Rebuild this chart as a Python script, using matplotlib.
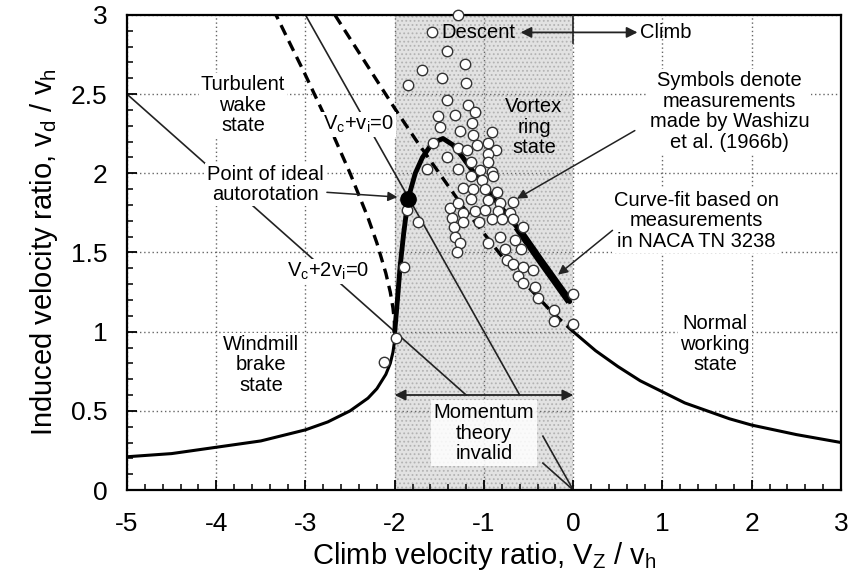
import numpy as np
import matplotlib.pyplot as plt
from matplotlib.ticker import MultipleLocator

plt.rcParams['font.family'] = ['Liberation Sans', 'DejaVu Sans']
plt.rcParams['hatch.linewidth'] = 0.8
plt.rcParams['axes.unicode_minus'] = False
plt.rcParams['mathtext.default'] = 'regular'

# momentum theory, normal working state branch (climb side)
climb_x = [0.0, 0.25, 0.5, 0.75, 1.0, 1.25, 1.5, 1.75, 2.0, 2.5, 3.0]
climb_y = [1.0, 0.88, 0.78, 0.69, 0.62, 0.55, 0.50, 0.45, 0.41, 0.35, 0.30]
# same branch carried into descent (dashed)
climb_ext_x = [-2.67, -2.5, -2.25, -2.0, -1.75, -1.5, -1.25, -1.0, -0.75, -0.5, -0.25, 0.0]
climb_ext_y = [3.0, 2.85, 2.63, 2.41, 2.20, 2.0, 1.80, 1.62, 1.44, 1.28, 1.13, 1.0]
# windmill brake state branch
brake_x = [-5.0, -4.5, -4.0, -3.5, -3.0, -2.75, -2.5, -2.3, -2.2, -2.1, -2.05, -2.02, -2.005, -2.0]
brake_y = [0.21, 0.23, 0.27, 0.31, 0.38, 0.43, 0.50, 0.58, 0.64, 0.73, 0.80, 0.87, 0.93, 1.0]
# other root of the windmill branch (dashed)
brake_ext_x = [-2.0, -2.005, -2.02, -2.05, -2.1, -2.2, -2.3, -2.5, -2.75, -3.0, -3.2, -3.33]
brake_ext_y = [1.0, 1.07, 1.15, 1.25, 1.37, 1.56, 1.72, 2.0, 2.32, 2.62, 2.85, 3.0]

# curve fit, NACA TN 3238
fit_x = [-2.0, -1.97, -1.94, -1.90, -1.85, -1.77, -1.69, -1.58, -1.46, -1.35, -1.25,
         -1.16, -0.90, -0.63, -0.37, -0.04]
fit_y = [1.0, 1.20, 1.41, 1.62, 1.84, 2.00, 2.10, 2.19, 2.22, 2.18, 2.11,
         2.04, 1.85, 1.66, 1.45, 1.19]

# Washizu et al. (1966b) measurements
wash_x = [-1.29, -1.58, -1.42, -1.21, -1.69, -1.85, -1.47, -1.20, -1.41, -1.18, -1.10,
          -1.52, -1.32, -1.49, -1.27, -1.13, -1.12, -0.91, -1.57, -1.41, -1.29, -1.19,
          -1.08, -0.96, -0.87, -0.96, -1.64, -1.29, -1.15, -0.95, -1.04, -0.91, -1.15,
          -1.02, -0.90, -1.24, -1.12, -0.99, -0.85, -1.38, -1.29, -1.15, -0.95, -0.82,
          -0.68, -1.36, -1.24, -1.10, -0.99, -0.84, -0.71, -1.34, -1.23, -1.06, -0.91,
          -0.80, -0.68, -0.56, -1.32, -1.27, -1.30, -0.95, -0.82, -0.65, -0.59, -0.76,
          -0.74, -0.67, -0.56, -0.45, -0.62, -0.56, -0.43, -0.40, -0.22, -0.22, 0.00,
          0.00, -1.90, -1.86, -1.74, -1.99, -2.12]
wash_y = [3.00, 2.89, 2.77, 2.69, 2.65, 2.56, 2.60, 2.57, 2.46, 2.43, 2.39,
          2.36, 2.37, 2.29, 2.27, 2.32, 2.24, 2.26, 2.19, 2.10, 2.16, 2.15,
          2.18, 2.19, 2.15, 2.12, 2.03, 2.03, 2.07, 2.07, 2.02, 2.01, 1.98,
          1.96, 1.98, 1.91, 1.90, 1.90, 1.88, 1.78, 1.81, 1.84, 1.83, 1.81,
          1.82, 1.72, 1.75, 1.76, 1.77, 1.76, 1.75, 1.66, 1.69, 1.69, 1.71,
          1.71, 1.71, 1.66, 1.60, 1.56, 1.50, 1.56, 1.60, 1.58, 1.52, 1.52,
          1.45, 1.43, 1.41, 1.39, 1.35, 1.31, 1.28, 1.21, 1.14, 1.07, 1.24,
          1.05, 1.41, 1.77, 1.69, 0.96, 0.81]

# ideal autorotation point
auto_x, auto_y = -1.85, 1.84

# straight reference lines Vc+vi=0 and Vc+2vi=0 (broken at the label)
line1_x = [[-3.0, -0.6], [-0.34, 0.0]]
line1_y = [[3.0, 0.6], [0.34, 0.0]]
line2_x = [[-5.0, -1.2], [-0.34, 0.0]]
line2_y = [[2.5, 0.6], [0.17, 0.0]]

xticks = [-5, -4, -3, -2, -1, 0, 1, 2, 3]
yticks = [0, 0.5, 1, 1.5, 2, 2.5, 3]
ytick_labels = ['0', '0.5', '1', '1.5', '2', '2.5', '3']

fig = plt.figure(figsize=(8.5, 5.83), dpi=100)
ax = fig.add_axes([0.1494, 0.1595, 0.84, 0.8148])

# momentum theory invalid zone
ax.axvspan(-2, 0, facecolor='#e2e2e2', edgecolor='#b3b3b3', hatch='....', lw=0, zorder=0.2)

ax.plot(climb_x, climb_y, color='black', lw=2.2, zorder=3)
ax.plot(climb_ext_x, climb_ext_y, color='black', lw=2.4, ls=(0, (3.3, 2)), zorder=3)
ax.plot(brake_x, brake_y, color='black', lw=2.2, zorder=3)
ax.plot(brake_ext_x, brake_ext_y, color='black', lw=2.4, ls=(0, (3.3, 2)), zorder=3)
for xs, ys in zip(line1_x, line1_y):
    ax.plot(xs, ys, color='#222222', lw=1.2, zorder=2)
for xs, ys in zip(line2_x, line2_y):
    ax.plot(xs, ys, color='#222222', lw=1.2, zorder=2)

fx = np.array(fit_x)
fy = np.array(fit_y)
ax.plot(fx, fy, color='black', lw=3.5, solid_capstyle='round', zorder=4)
m = fx >= -0.65
ax.plot(fx[m], fy[m], color='black', lw=5.5, solid_capstyle='butt', zorder=4)

ax.plot(wash_x, wash_y, 'o', ms=7.5, mfc='white', mec='#333333', mew=1.0, zorder=5,
        clip_on=False)
ax.plot([auto_x], [auto_y], 'o', ms=11, color='black', zorder=6)

ax.set_xlim(-5, 3)
ax.set_ylim(0, 3)
ax.set_xticks(xticks)
ax.set_yticks(yticks)
ax.set_yticklabels(ytick_labels)
ax.xaxis.set_minor_locator(MultipleLocator(0.2))
ax.yaxis.set_minor_locator(MultipleLocator(0.1))
ax.tick_params(which='major', direction='in', length=7, width=1.3, labelsize=19)
ax.tick_params(axis='x', which='major', pad=16)
ax.tick_params(axis='y', which='major', pad=14)
ax.tick_params(which='minor', direction='in', length=4, width=1.1)
ax.grid(True, which='major', ls=(0, (1, 2)), color='#666666', lw=1.0)
ax.set_axisbelow(True)
for s in ax.spines.values():
    s.set_linewidth(1.6)

ax.set_xlabel('Climb velocity ratio, V$_Z$ / v$_h$', fontsize=21, labelpad=3)
ax.set_ylabel('Induced velocity ratio, v$_d$ / v$_h$', fontsize=21, labelpad=8)

wbox = dict(facecolor='white', edgecolor='none', pad=1.5)
tk = dict(fontsize=14.5, ha='center', va='center', linespacing=1.1, zorder=7)

ax.text(-3.70, 2.43, 'Turbulent\nwake\nstate', bbox=wbox, **tk)
ax.text(-3.45, 1.93, 'Point of ideal\nautorotation', bbox=wbox, **tk)
ax.text(-2.41, 2.31, 'V$_c$+v$_i$=0', bbox=wbox, **tk)
ax.text(-2.75, 1.38, 'V$_c$+2v$_i$=0', bbox=wbox, **tk)
ax.text(-3.50, 0.79, 'Windmill\nbrake\nstate', bbox=wbox, **tk)
ax.text(-0.44, 2.29, 'Vortex\nring\nstate', **tk)
ax.text(-1.00, 0.36, 'Momentum\ntheory\ninvalid',
        bbox=dict(facecolor='white', edgecolor='none', alpha=0.85, pad=2), **tk)
ax.text(1.59, 0.92, 'Normal\nworking\nstate', bbox=wbox, **tk)
ax.text(1.75, 2.39, 'Symbols denote\nmeasurements\nmade by Washizu\net al. (1966b)', bbox=wbox, **tk)
ax.text(1.38, 1.70, 'Curve-fit based on\nmeasurements\nin NACA TN 3238', bbox=wbox, **tk)
ax.text(-1.06, 2.89, 'Descent', **tk)
ax.text(1.04, 2.89, 'Climb', **tk)

arr = dict(arrowstyle='-|>', color='#222222', lw=1.1, mutation_scale=14, shrinkA=0, shrinkB=0)
ax.annotate('', xy=(-1.97, 1.85), xytext=(-2.76, 1.88), arrowprops=arr, zorder=7)
ax.annotate('', xy=(-0.63, 1.84), xytext=(0.69, 2.27), arrowprops=arr, zorder=7)
ax.annotate('', xy=(-0.17, 1.36), xytext=(0.44, 1.64), arrowprops=arr, zorder=7)

darr = dict(arrowstyle='<|-|>', color='#222222', lw=1.3, mutation_scale=16, shrinkA=0, shrinkB=0)
ax.annotate('', xy=(0.0, 0.6), xytext=(-2.0, 0.6), arrowprops=darr, zorder=7)
ax.annotate('', xy=(0.72, 2.89), xytext=(-0.59, 2.89), arrowprops=darr, zorder=7)
ax.plot([0, 0], [2.82, 3.0], color='#222222', lw=1.2, zorder=7)

fig.savefig('out.png', dpi=100)
